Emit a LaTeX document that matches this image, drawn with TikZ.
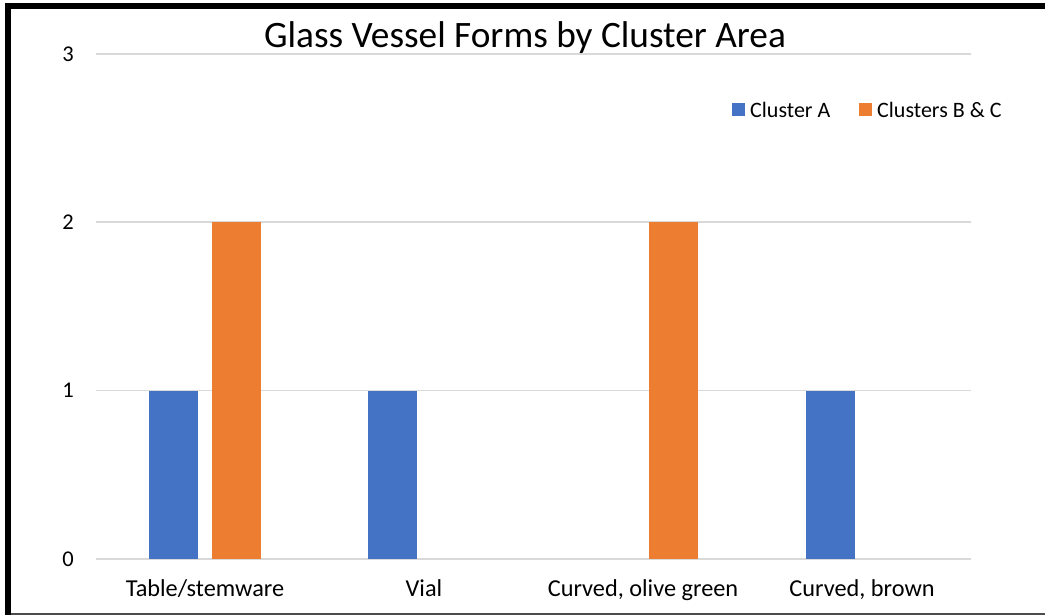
\documentclass[tikz,border=0pt]{standalone}
\usepackage{fontspec}
\setmainfont{Carlito}
\definecolor{barA}{HTML}{4472C4}
\definecolor{barB}{HTML}{ED7D31}
\definecolor{gridc}{HTML}{D9D9D9}
\begin{document}
\begin{tikzpicture}[x=1pt,y=-1pt,
  grid/.style={draw=gridc,line width=1.6pt},
  tick/.style={font=\fontsize{22.5}{24}\selectfont,text=black},
  cat/.style={font=\fontsize{24.3}{26}\selectfont,text=black,anchor=base,inner sep=0pt},
  leg/.style={font=\fontsize{22}{24}\selectfont,text=black},
  bara/.style={fill=barA,draw=none},
  barb/.style={fill=barB,draw=none}]
\useasboundingbox (0,0) rectangle (1045,615);
\fill[white] (0,0) rectangle (1045,615);
% frame
\fill[black] (5,3) rectangle (1045,9);
\fill[black] (5,3) rectangle (11,615);
\draw[draw=black!70,line width=1.5pt] (11,614) -- (1045,614);
% gridlines and ticks
\foreach \v/\yy in {0/559,1/390.6,2/222.2,3/53.8}{
  \draw[grid] (96,\yy) -- (971,\yy);
  \node[tick] (t\v) at (68,\yy) {\v};
}
% bars
\fill[bara] (149,559) rectangle (198,390.6);
\fill[barb] (212,559) rectangle (261,222.2);
\fill[bara] (368,559) rectangle (417,390.6);
\fill[barb] (649,559) rectangle (698,222.2);
\fill[bara] (806,559) rectangle (855,390.6);
% category labels
\node[cat] (c1) at (205,596) {Table/stemware};
\node[cat] (c2) at (424,596) {Vial};
\node[cat] (c3) at (643,596) {Curved, olive green};
\node[cat] (c4) at (862,596) {Curved, brown};
% title
\node[font=\fontsize{37.3}{40}\selectfont] (title) at (525,38) {Glass Vessel Forms by Cluster Area};
% legend
\fill[bara] (732,103) rectangle (745,116);
\node[leg,anchor=west,inner sep=0pt] (la) at (750,109.5) {Cluster A};
\fill[barb] (859,103) rectangle (872,116);
\node[leg,anchor=west,inner sep=0pt] (lb) at (877,109.5) {Clusters B \& C};
\end{tikzpicture}
\end{document}
